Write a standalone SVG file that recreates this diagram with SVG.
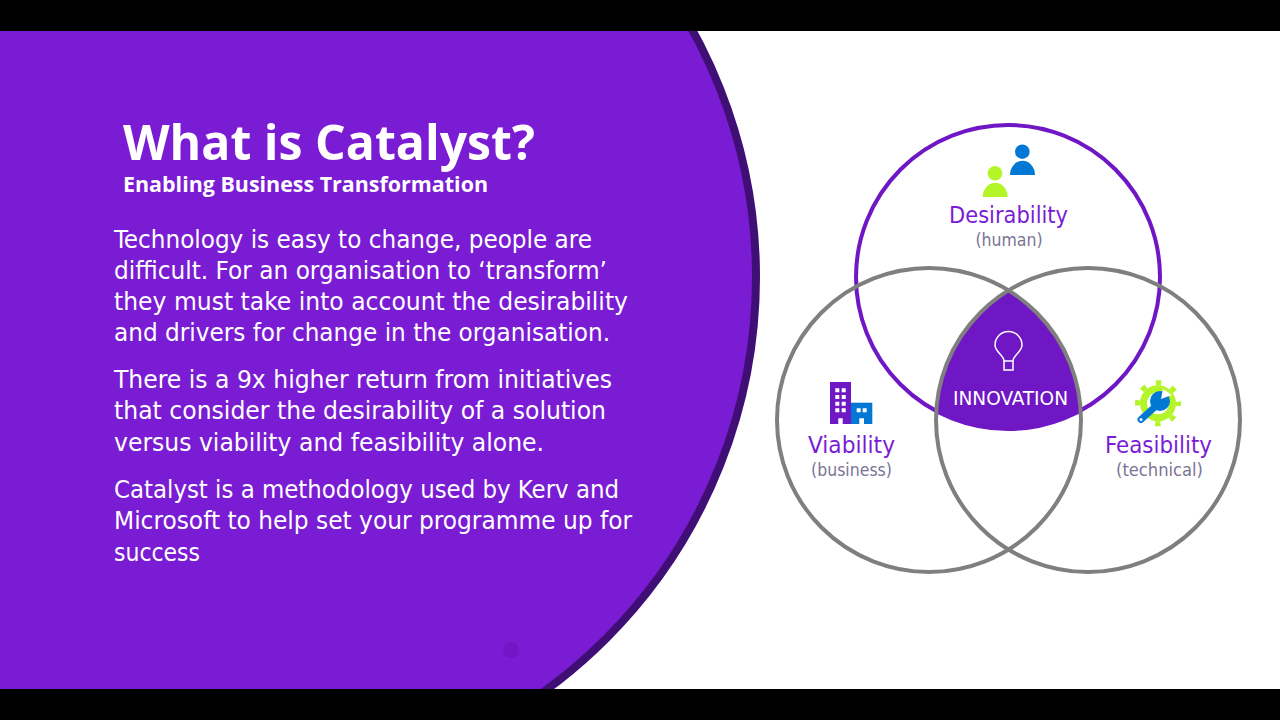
<svg xmlns="http://www.w3.org/2000/svg" width="1280" height="720" viewBox="0 0 1280 720">
<style>
text{font-family:"DejaVu Sans",sans-serif;font-stretch:condensed}
.t{font-family:"Open Sans","Noto Sans",sans-serif;font-weight:700;fill:#fff;font-stretch:normal}
.b{font-size:25.500px;fill:#fff}
.n{font-size:23.500px;fill:#7a1cd6;text-anchor:middle}
.s{font-size:17.500px;fill:#7b7495;text-anchor:middle}
.c{fill:none;stroke-width:4}
.w{fill:#fff}
.bl{fill:#0078d4}
.gr{fill:#b4f52a}
</style>
<rect width="1280" height="720" fill="#fff"/>
<circle cx="245" cy="277" r="511" fill="#7a1cd3" stroke="#3f0f75" stroke-width="8"/>
<rect width="30" height="720" fill="#7a1cd3"/>
<circle cx="511" cy="650" r="8" fill="#7317c6"/>
<rect width="1280" height="31" fill="#000"/>
<rect y="689" width="1280" height="31" fill="#000"/>
<g id="title">
<text class="t" x="123" y="160" font-size="49" textLength="412" lengthAdjust="spacingAndGlyphs">What is Catalyst?</text>
<text class="t" x="123" y="192" font-size="22" textLength="365" lengthAdjust="spacingAndGlyphs">Enabling Business Transformation</text>
</g>
<g id="body">
<text class="b" x="114" y="248" textLength="478" lengthAdjust="spacingAndGlyphs">Technology is easy to change, people are</text>
<text class="b" x="114" y="279" textLength="493" lengthAdjust="spacingAndGlyphs">difficult. For an organisation to ‘transform’</text>
<text class="b" x="114" y="310" textLength="514" lengthAdjust="spacingAndGlyphs">they must take into account the desirability</text>
<text class="b" x="114" y="341" textLength="496" lengthAdjust="spacingAndGlyphs">and drivers for change in the organisation.</text>
<text class="b" x="114" y="388" textLength="498" lengthAdjust="spacingAndGlyphs">There is a 9x higher return from initiatives</text>
<text class="b" x="114" y="419" textLength="492" lengthAdjust="spacingAndGlyphs">that consider the desirability of a solution</text>
<text class="b" x="114" y="451" textLength="430" lengthAdjust="spacingAndGlyphs">versus viability and feasibility alone.</text>
<text class="b" x="114" y="498" textLength="505" lengthAdjust="spacingAndGlyphs">Catalyst is a methodology used by Kerv and</text>
<text class="b" x="114" y="529" textLength="518" lengthAdjust="spacingAndGlyphs">Microsoft to help set your programme up for</text>
<text class="b" x="114" y="561" textLength="86" lengthAdjust="spacingAndGlyphs">success</text>
</g>
<g id="innovation-fill">
<path d="M1008.500 290.400A152 152 0 0 1 1080.700 410.500A152 152 0 0 1 935.800 410.500A152 152 0 0 1 1008.500 290.400Z" fill="#6f17c4"/>
</g>
<g id="circles">
<circle class="c" cx="1008" cy="277" r="152" stroke="#6f17c4"/>
<circle class="c" cx="929" cy="420" r="152" stroke="#7f7f7f"/>
<circle class="c" cx="1088" cy="420" r="152" stroke="#7f7f7f"/>
</g>
<g id="innovation">
<path d="M1004 361C1004 355 995 352 995 345A13.500 13.500 0 1 1 1022 345C1022 352 1013 355 1013 361ZM1004 361V370H1013V361" fill="none" stroke="#fff" stroke-width="1.500"/>
<text x="953" y="405" font-size="19" fill="#fff" textLength="115" lengthAdjust="spacingAndGlyphs">INNOVATION</text>
</g>
<g id="desirability">
<circle class="bl" cx="1022.300" cy="151.700" r="7.300"/>
<path class="bl" d="M1010 175a12.500 14.300 0 0 1 25 0z"/>
<circle class="gr" cx="995" cy="173.300" r="7.300"/>
<path class="gr" d="M982.700 197a12.500 14.300 0 0 1 25 0z"/>
<text class="n" x="1008.500" y="223" textLength="119" lengthAdjust="spacingAndGlyphs">Desirability</text>
<text class="s" x="1009" y="246">(human)</text>
</g>
<g id="viability">
<rect x="830" y="382" width="21" height="42" fill="#6f17c4"/>
<rect class="bl" x="851" y="402.700" width="21.300" height="21.300"/>
<path class="w" d="M835.300 388.300h4v4h-4zM841.700 388.300h4v4h-4zM835.300 395h4v4h-4zM841.700 395h4v4h-4zM835.300 401.700h4v4h-4zM841.700 401.700h4v4h-4zM835.300 408.300h4v4h-4zM841.700 408.300h4v4h-4zM838.300 418.300h4.400v5.700h-4.400zM856.700 408.300h4v4h-4zM862.700 408.300h4v4h-4zM859.300 418.300h4.700v5.700h-4.700z"/>
<text class="n" x="851.500" y="453" textLength="87" lengthAdjust="spacingAndGlyphs">Viability</text>
<text class="s" x="851.500" y="476">(business)</text>
</g>
<g id="feasibility">
<circle cx="1158" cy="403.300" r="20.500" fill="none" stroke="#b4f52a" stroke-width="5" stroke-dasharray="5.500 10.600" stroke-dashoffset="2.750"/>
<circle cx="1158" cy="403.300" r="14.500" fill="#fff" stroke="#b4f52a" stroke-width="7"/>
<circle class="bl" cx="1160" cy="401" r="10"/>
<path d="M1141 419.500L1157 405" stroke="#0078d4" stroke-width="7" stroke-linecap="round"/>
<path class="w" d="M1161 399L1163 389L1172 395Z"/>
<circle class="w" cx="1141" cy="419.500" r="1.500"/>
<text class="n" x="1158.500" y="453" textLength="107" lengthAdjust="spacingAndGlyphs">Feasibility</text>
<text class="s" x="1159.500" y="476" textLength="87" lengthAdjust="spacingAndGlyphs">(technical)</text>
</g>
</svg>
